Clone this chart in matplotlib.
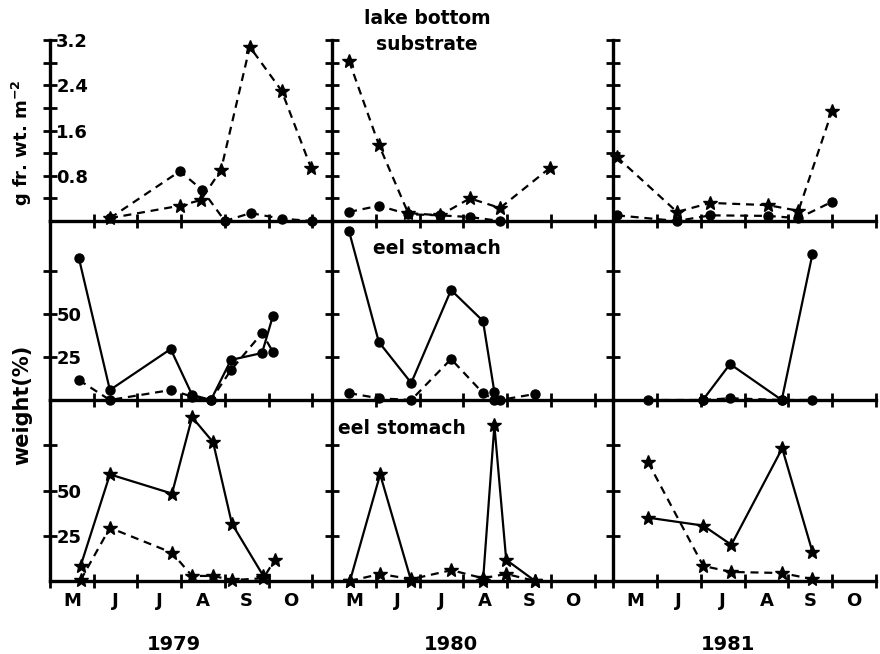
import matplotlib
matplotlib.use("Agg")
import matplotlib.pyplot as plt

# month axis: 0 = 1 May ... 6 = 1 Nov
months = ["M", "J", "J", "A", "S", "O"]
years = ["1979", "1980", "1981"]

# lake bottom substrate (g fr. wt. m-2)
x79_sub_circ = [1.37, 2.97, 3.48, 4.0, 4.59, 5.3, 6.0]
y79_sub_circ = [0.05, 0.88, 0.55, 0.0, 0.14, 0.04, 0.0]
x79_sub_star = [1.37, 2.97, 3.45, 3.91, 4.57, 5.3, 5.97]
y79_sub_star = [0.05, 0.27, 0.37, 0.9, 3.08, 2.3, 0.94]

x80_sub_circ = [0.39, 1.07, 1.74, 2.47, 3.15, 3.84]
y80_sub_circ = [0.16, 0.27, 0.12, 0.1, 0.07, 0.0]
x80_sub_star = [0.39, 1.07, 1.74, 2.47, 3.15, 3.84, 4.98]
y80_sub_star = [2.83, 1.35, 0.14, 0.1, 0.4, 0.23, 0.94]

x81_sub = [0.09, 1.46, 2.22, 3.54, 4.23, 5.0]
y81_sub_circ = [0.1, 0.0, 0.1, 0.09, 0.05, 0.34]
y81_sub_star = [1.13, 0.16, 0.32, 0.28, 0.18, 1.95]

# eel stomach, circles (weight %)
x79_mid = [0.66, 1.37, 2.76, 3.25, 3.68, 4.14, 4.85, 5.1]
y79_mid_solid = [82.5, 5.8, 29.6, 3.0, 0.0, 23.3, 27.3, 49.0]
y79_mid_dash = [11.6, 0.0, 5.8, 2.0, 0.0, 17.4, 38.9, 27.9]

x80_mid_solid = [0.39, 1.07, 1.81, 2.72, 3.45, 3.71]
y80_mid_solid = [98.0, 33.7, 9.9, 63.9, 45.9, 4.6]
x80_mid_dash = [0.39, 1.07, 1.81, 2.72, 3.45, 3.71, 3.84, 4.64]
y80_mid_dash = [4.0, 1.0, 0.0, 23.8, 4.0, 0.0, 0.0, 3.5]

x81_mid_solid = [2.05, 2.67, 3.85, 4.55]
y81_mid_solid = [0.0, 20.9, 0.0, 84.8]
x81_mid_dash = [0.8, 2.05, 2.67, 3.85, 4.55]
y81_mid_dash = [0.0, 0.0, 1.0, 0.0, 0.0]

# eel stomach, stars (weight %)
x79_bot_solid = [0.7, 1.37, 2.79, 3.25, 3.73, 4.16, 4.88]
y79_bot_solid = [8.3, 58.9, 48.3, 90.5, 76.7, 31.7, 2.8]
x79_bot_dash = [0.7, 1.37, 2.79, 3.25, 3.73, 4.16, 4.88, 5.14]
y79_bot_dash = [0.5, 29.4, 15.6, 2.8, 2.8, 0.5, 1.5, 11.7]

x80_bot_solid = [0.41, 1.10, 1.81, 3.45, 3.71, 3.98, 4.64]
y80_bot_solid = [0.0, 58.9, 0.0, 0.0, 86.0, 11.7, 0.0]
x80_bot_dash = [0.41, 1.10, 1.81, 2.73, 3.45, 3.98, 4.64]
y80_bot_dash = [0.0, 3.9, 1.0, 6.0, 1.5, 3.9, 0.0]

x81_bot = [0.8, 2.06, 2.7, 3.86, 4.55]
y81_bot_solid = [35.0, 30.6, 20.0, 73.3, 16.1]
y81_bot_dash = [65.6, 8.3, 5.0, 4.4, 1.0]

plt.rcParams["font.family"] = "DejaVu Sans"
plt.rcParams["font.weight"] = "bold"

W, H = 880, 654
fig = plt.figure(figsize=(8.8, 6.54), dpi=100)

col_px = [(50, 332, 6.45), (332, 613, 6.42), (613, 876, 6.0)]
row_px = [(40, 221), (221, 400), (400, 581)]
row_ylim = [3.2, 104, 100]

DASH = (0, (3.6, 2.6))
circ = dict(marker="o", ms=6.5, color="black", lw=1.6, clip_on=False)
star = dict(marker="*", ms=10, color="black", lw=1.6, clip_on=False)

series = {
    (0, 0): [(x79_sub_circ, y79_sub_circ, DASH, circ), (x79_sub_star, y79_sub_star, DASH, star)],
    (0, 1): [(x80_sub_circ, y80_sub_circ, DASH, circ), (x80_sub_star, y80_sub_star, DASH, star)],
    (0, 2): [(x81_sub, y81_sub_circ, DASH, circ), (x81_sub, y81_sub_star, DASH, star)],
    (1, 0): [(x79_mid, y79_mid_solid, "-", circ), (x79_mid, y79_mid_dash, DASH, circ)],
    (1, 1): [(x80_mid_solid, y80_mid_solid, "-", circ), (x80_mid_dash, y80_mid_dash, DASH, circ)],
    (1, 2): [(x81_mid_solid, y81_mid_solid, "-", circ), (x81_mid_dash, y81_mid_dash, DASH, circ)],
    (2, 0): [(x79_bot_solid, y79_bot_solid, "-", star), (x79_bot_dash, y79_bot_dash, DASH, star)],
    (2, 1): [(x80_bot_solid, y80_bot_solid, "-", star), (x80_bot_dash, y80_bot_dash, DASH, star)],
    (2, 2): [(x81_bot, y81_bot_solid, "-", star), (x81_bot, y81_bot_dash, DASH, star)],
}

axes = {}
for r, (top, bottom) in enumerate(row_px):
    for c, (left, right, xmax) in enumerate(col_px):
        ax = fig.add_axes([left / W, 1 - bottom / H, (right - left) / W, (bottom - top) / H])
        ax.patch.set_alpha(0)
        axes[r, c] = ax
        for s in ("top", "right"):
            ax.spines[s].set_visible(False)
        for s in ("left", "bottom"):
            ax.spines[s].set_linewidth(2.4)
        ax.set_xlim(0, xmax)
        ax.set_ylim(0, row_ylim[r])
        ax.set_xticks(range(0, 7))
        ax.set_xticklabels([])
        ax.tick_params(axis="both", which="major", direction="inout", length=10, width=2)
        if r == 0:
            yt = [0.4 * i for i in range(1, 9)]
            ax.set_yticks(yt)
            lab = ["0.8", "1.6", "2.4", "3.2"]
            ax.set_yticklabels(["", lab[0], "", lab[1], "", lab[2], "", lab[3]] if c == 0 else [])
        else:
            ax.set_yticks([25, 50, 75])
            ax.set_yticklabels(["25", "50", ""] if c == 0 else [])
        if c == 0:
            ax.tick_params(axis="y", pad=-9.5, labelsize=13)
            for t in ax.get_yticklabels():
                t.set_horizontalalignment("left")
                t.set_fontweight("bold")
        if r == 2:
            ax.set_xticks([m + 0.5 for m in range(6)], minor=True)
            ax.set_xticklabels(months, minor=True, fontsize=13, fontweight="bold")
            ax.tick_params(axis="x", which="minor", length=0, pad=8)
        for xs, ys, ls, style in series[r, c]:
            ax.plot(xs, ys, linestyle=ls, **style)

# panel annotations
fig.text(427 / W, 1 - 19 / H, "lake bottom", ha="center", va="center", fontsize=13.5, fontweight="bold")
fig.text(427 / W, 1 - 45 / H, "substrate", ha="center", va="center", fontsize=13.5, fontweight="bold")
fig.text(437 / W, 1 - 248 / H, "eel stomach", ha="center", va="center", fontsize=13.5, fontweight="bold")
fig.text(402 / W, 1 - 429 / H, "eel stomach", ha="center", va="center", fontsize=13.5, fontweight="bold")

# axis labels
fig.text(22 / W, 1 - 143 / H, "g fr. wt. m$^{\\mathbf{-2}}$", rotation=90, ha="center", va="center",
         fontsize=13, fontweight="bold")
fig.text(22 / W, 1 - 405 / H, "weight(%)", rotation=90, ha="center", va="center",
         fontsize=15, fontweight="bold")

for yr, xc in zip(years, [174, 451, 728]):
    fig.text(xc / W, 1 - 645 / H, yr, ha="center", va="center", fontsize=14, fontweight="bold")

fig.savefig("out.png", dpi=100)
